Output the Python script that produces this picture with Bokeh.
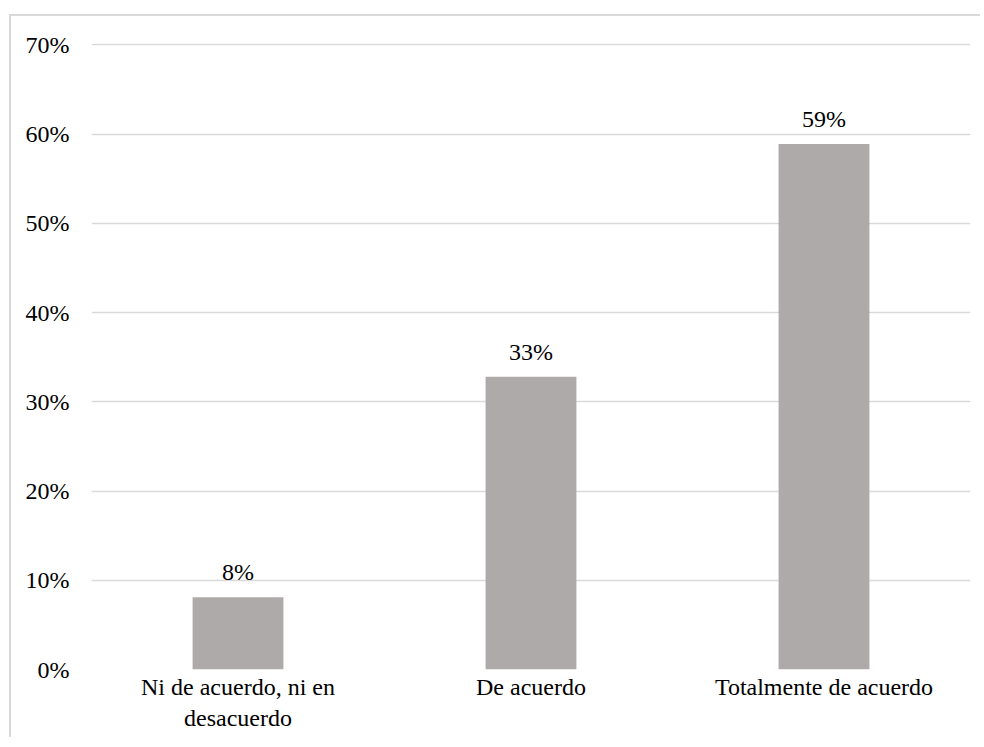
from bokeh.plotting import figure
from bokeh.models import ColumnDataSource, NumeralTickFormatter, FixedTicker, Range1d
from bokeh.core.properties import value
from bokeh.embed import file_html
from bokeh.resources import INLINE

categories = ["Ni de acuerdo, ni en\ndesacuerdo", "De acuerdo", "Totalmente de acuerdo"]
values = [0.081, 0.328, 0.589]
value_labels = ["8%", "33%", "59%"]
y_ticks = [0, 0.1, 0.2, 0.3, 0.4, 0.5, 0.6, 0.7]

FONT = "Liberation Serif"
GRID = "#D9D9D9"
FS = "24px"

src = ColumnDataSource(dict(cat=categories, val=values, lab=value_labels))

p = figure(x_range=categories, y_range=Range1d(0, 0.7015), width=971, height=723,
           output_backend="svg", toolbar_location=None,
           min_border_left=80, min_border_right=12, min_border_top=27, min_border_bottom=70)
p.margin = (14, 0, 0, 9)
p.styles = {"border-left": "2px solid #D9D9D9", "border-top": "2px solid #D9D9D9"}

p.vbar(x="cat", top="val", width=0.31, source=src, fill_color="#AEAAA9", line_color=None)
p.text(x="cat", y="val", text="lab", source=src, text_align="center", text_baseline="bottom",
       y_offset=-12, text_font=value(FONT), text_font_size=FS, text_color="#000000")

p.outline_line_color = None
p.xgrid.grid_line_color = None
p.ygrid.grid_line_color = GRID
p.ygrid.grid_line_width = 1.3
p.yaxis.ticker = FixedTicker(ticks=y_ticks)
p.yaxis.formatter = NumeralTickFormatter(format="0%")
for ax in (p.xaxis[0], p.yaxis[0]):
    ax.axis_line_color = None
    ax.major_tick_line_color = None
    ax.minor_tick_line_color = None
    ax.major_label_text_font = FONT
    ax.major_label_text_font_size = FS
    ax.major_label_text_color = "#000000"
p.yaxis.major_label_standoff = 16
p.xaxis.major_label_standoff = -2
p.x_range.range_padding = 0

open("out.html", "w").write(file_html(p, INLINE))
